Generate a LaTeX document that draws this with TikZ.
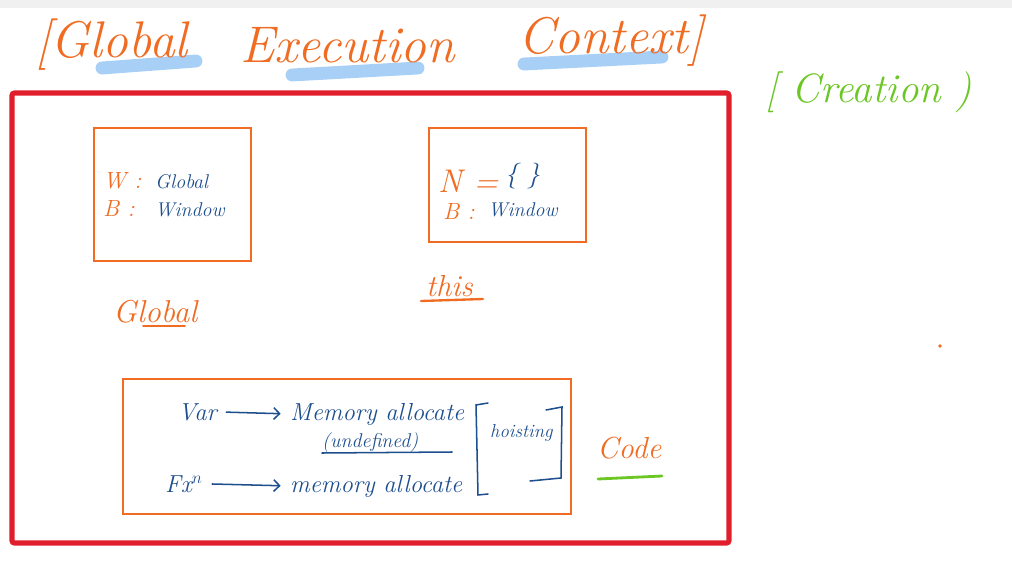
\documentclass[tikz,border=0pt]{standalone}
\usepackage{xcolor}
\usepackage{amsmath}
\usepackage{tikz}
\usetikzlibrary{positioning, arrows.meta}

\definecolor{penorange}{HTML}{EF6C22}
\definecolor{penblue}{HTML}{1D4E8E}
\definecolor{penred}{HTML}{E01E2C}
\definecolor{pengreen}{HTML}{6CC624}
\definecolor{marker}{HTML}{A8D0F6}

\begin{document}
\begin{tikzpicture}[
    x=0.03cm, y=-0.03cm,
    every node/.style={inner sep=0pt, font=\itshape},
    ink/.style={text=penblue, font=\itshape\fontsize{17}{19}\selectfont},
    tag/.style={text=penorange, font=\itshape\fontsize{20}{22}\selectfont},
    heading/.style={text=penorange, font=\itshape\fontsize{44}{48}\selectfont},
    note/.style={text=penblue, font=\itshape\fontsize{21}{23}\selectfont},
    panel/.style={draw=penorange, line width=2.4pt},
    highlight/.style={draw=marker, line width=11pt, line cap=round},
    pen/.style={draw=penblue, line width=1.3pt, line cap=round},
    flow/.style={pen, -{Straight Barb[length=5pt]}, shorten <=8pt, shorten >=8pt}
]
\useasboundingbox (0,0) rectangle (1012,562);
\fill[black!6] (0,0) rectangle (1012,8);

% title with marker strokes
\draw[highlight] (102,68) -- (196,61);
\draw[highlight] (292,75) -- (418,68);
\draw[highlight] (524,64) -- (662,57);
\node[heading, anchor=base west] (tglobal) at (35,58) {[Global};
\node[heading, anchor=base west] (texec) at (240,63) {Execution};
\node[heading, anchor=base west] (tcontext) at (518,54) {Context]};

\node[text=pengreen, anchor=base west, font=\itshape\fontsize{35}{38}\selectfont] (creation) at (765,102) {[ Creation )};

% outer frame
\draw[draw=penred, line width=4.3pt, rounded corners=2pt] (12,93) rectangle (729,543);

% global object box
\draw[panel] (94,128) rectangle (251,261);
\node[tag, anchor=base west] (wkey) at (103,188) {W :};
\node[ink, anchor=base west] (wval) at (155,188) {Global};
\node[tag, anchor=base west] (bkey) at (103,216) {B :};
\node[ink, anchor=base west] (bval) at (155,216) {Window};

% this box
\draw[panel] (429,128) rectangle (586,242);
\node[text=penorange, anchor=base west, font=\itshape\fontsize{28}{30}\selectfont] (nkey) at (438,192) {N =};
\node[ink, anchor=base west, font=\itshape\fontsize{22}{24}\selectfont] (nval) at (505,182) {\{ \}};
\node[tag, anchor=base west] (tkey) at (443,219) {B :};
\node[ink, anchor=base west] (tval) at (488,216) {Window};

% labels under the boxes
\node[tag, anchor=base west, font=\itshape\fontsize{27}{29}\selectfont] (lglobal) at (113,322) {Global};
\draw[draw=penorange, line width=1.3pt, line cap=round] (143,326) -- (185,326);
\node[tag, anchor=base west, font=\itshape\fontsize{26}{28}\selectfont] (lthis) at (426,296) {this};
\draw[draw=penorange, line width=2pt, line cap=round] (421,301) -- (483,299);

% code box
\draw[panel] (123,379) rectangle (571,514);
\node[note, anchor=base west] (var) at (178,420) {Var};
\node[note, anchor=base west] (varmem) at (290,420) {Memory allocate};
\draw[flow] (var.east) -- (varmem.west);
\node[note, anchor=base west, font=\itshape\fontsize{17}{19}\selectfont] (undef) at (322,447) {(undefined)};
\draw[pen] (322,453) -- (452,452);
\node[note, anchor=base west] (fxn) at (165,492) {Fx$^{n}$};
\node[note, anchor=base west] (fxmem) at (290,492) {memory allocate};
\draw[flow] (fxn.east) -- (fxmem.west);
\node[note, anchor=base west, font=\itshape\fontsize{16}{18}\selectfont] (hoist) at (490,437) {hoisting};
\draw[pen] (488,403) -- (476,405) -- (478,495) -- (488,494);
\draw[pen] (546,410) -- (562,407) -- (561,478) -- (530,481);

\node[text=penorange, anchor=base west, font=\itshape\fontsize{26}{28}\selectfont] (code) at (597,458) {Code};
\draw[draw=pengreen, line width=2.4pt, line cap=round] (598,479) -- (662,476);

\fill[penorange] (940,346) circle (1.8);
\end{tikzpicture}
\end{document}
